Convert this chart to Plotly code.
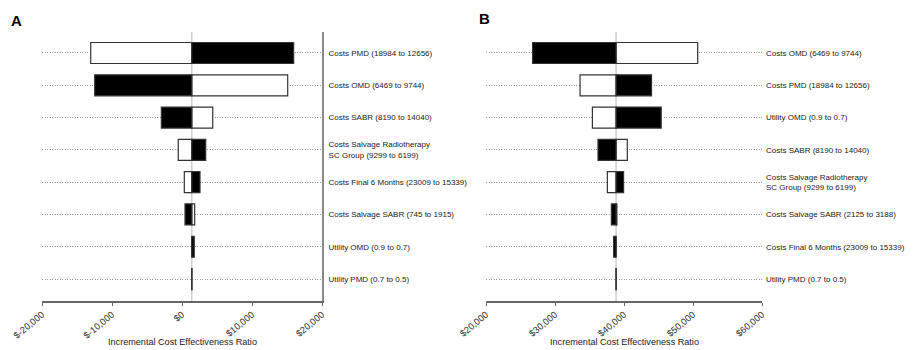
import plotly.graph_objects as go

# ---------------- data ----------------
labels_a = [
    "Costs PMD (18984 to 12656)",
    "Costs OMD (6469 to 9744)",
    "Costs SABR (8190 to 14040)",
    "Costs Salvage Radiotherapy<br>SC Group (9299 to 6199)",
    "Costs Final 6 Months (23009 to 15339)",
    "Costs Salvage SABR (745 to 1915)",
    "Utility OMD (0.9 to 0.7)",
    "Utility PMD (0.7 to 0.5)",
]
base_a = 1400
icer_black_a = [15950, -12470, -2950, 3390, 2570, 430, 1750, 1420]
icer_white_a = [-13040, 15100, 4390, -530, 330, 1810, 1400, 1390]

labels_b = [
    "Costs OMD (6469 to 9744)",
    "Costs PMD (18984 to 12656)",
    "Utility OMD (0.9 to 0.7)",
    "Costs SABR (8190 to 14040)",
    "Costs Salvage Radiotherapy<br>SC Group (9299 to 6199)",
    "Costs Salvage SABR (2125 to 3188)",
    "Costs Final 6 Months (23009 to 15339)",
    "Utility PMD (0.7 to 0.5)",
]
base_b = 38850
icer_black_b = [26750, 43990, 45390, 36230, 39940, 38170, 38500, 38870]
icer_white_b = [50680, 33630, 35420, 40480, 37590, 38970, 38850, 38840]

ticks_a = [-20000, -10000, 0, 10000, 20000]
ticklabels_a = ["$-20,000", "$-10,000", "$0", "$10,000", "$20,000"]
ticks_b = [20000, 30000, 40000, 50000, 60000]
ticklabels_b = ["$20,000", "$30,000", "$40,000", "$50,000", "$60,000"]

x_title = "Incremental Cost Effectiveness Ratio"

# ---------------- figure ----------------
W, H = 914, 350
FONT = "Liberation Sans, Arial, sans-serif"
fig = go.Figure()


def add_panel(labels, base, black, white, xa, ya):
    ys = list(range(len(labels)))
    for vals, col in ((white, "white"), (black, "black")):
        fig.add_trace(go.Bar(
            orientation="h",
            y=ys,
            x=[v - base for v in vals],
            base=base,
            width=0.65,
            marker=dict(color=col, line=dict(color="#333333", width=1.2)),
            xaxis=xa, yaxis=ya,
            showlegend=False,
            hoverinfo="skip",
        ))
    fig.add_shape(type="line", xref=xa, yref=ya + " domain",
                  x0=base, x1=base, y0=0, y1=1,
                  line=dict(color="#cfcfcf", width=1.5), layer="below")


add_panel(labels_a, base_a, icer_black_a, icer_white_a, "x", "y")
add_panel(labels_b, base_b, icer_black_b, icer_white_b, "x2", "y2")

ydom = [1 - 301 / H, 1 - 32 / H]
yrange = [len(labels_a) - 1 + 0.68, -0.65]

common_x = dict(
    showgrid=False, zeroline=False, showline=True, linecolor="#666666",
    linewidth=1.6, ticks="outside", ticklen=3, tickcolor="#666666",
    tickangle=-40, tickfont=dict(family=FONT, size=9.3, color="#333333"),
    automargin=False, fixedrange=True,
)
common_y = dict(
    side="right", range=yrange, showgrid=True, gridcolor="#999999",
    griddash="1px,1.5px", gridwidth=1, zeroline=False, ticks="",
    tickvals=list(range(len(labels_a))),
    tickfont=dict(family=FONT, size=8.0, color="#222222"),
    ticklabelstandoff=3, automargin=False, fixedrange=True,
)

fig.update_layout(
    width=W, height=H,
    margin=dict(l=0, r=0, t=0, b=0, autoexpand=False),
    paper_bgcolor="white", plot_bgcolor="white",
    barmode="overlay",
    xaxis=dict(domain=[42 / W, 322 / W], range=[-20000, 20000],
               tickvals=ticks_a, ticktext=ticklabels_a, anchor="y", **common_x),
    xaxis2=dict(domain=[486 / W, 762 / W], range=[20000, 60000],
                tickvals=ticks_b, ticktext=ticklabels_b, anchor="y2", **common_x),
    yaxis=dict(domain=ydom, anchor="x", ticktext=labels_a, showline=True,
               linecolor="#8a8a8a", linewidth=2, **common_y),
    yaxis2=dict(domain=ydom, anchor="x2", ticktext=labels_b, showline=False,
                **common_y),
    annotations=[
        dict(text="<b>A</b>", x=16 / W, y=1 - 20.5 / H, xref="paper", yref="paper",
             xanchor="center", yanchor="middle",
             showarrow=False, font=dict(family=FONT, size=15, color="black")),
        dict(text="<b>B</b>", x=484 / W, y=1 - 19 / H, xref="paper", yref="paper",
             xanchor="center", yanchor="middle",
             showarrow=False, font=dict(family=FONT, size=15, color="black")),
        dict(text=x_title, x=182 / W, y=1 - 342 / H, xref="paper", yref="paper",
             xanchor="center", yanchor="middle",
             showarrow=False, font=dict(family=FONT, size=9.1, color="#222222")),
        dict(text=x_title, x=624 / W, y=1 - 342 / H, xref="paper", yref="paper",
             xanchor="center", yanchor="middle",
             showarrow=False, font=dict(family=FONT, size=9.1, color="#222222")),
    ],
)

fig.write_html("out.html",
               config={"displayModeBar": False, "staticPlot": True},
               post_script="document.body.style.margin='0';"
                           "document.body.style.overflow='hidden';")
